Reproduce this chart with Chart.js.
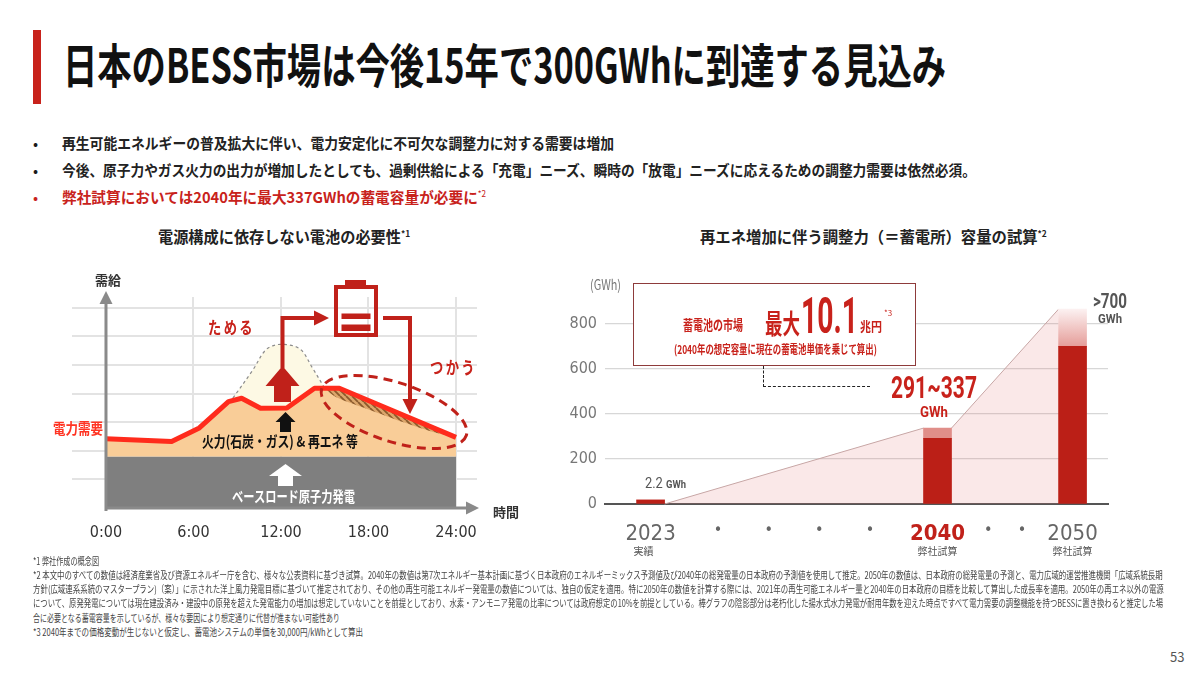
<!DOCTYPE html>
<html lang="ja">
<head>
<meta charset="UTF-8">
<title>日本のBESS市場</title>
<script src="https://cdn.jsdelivr.net/npm/chart.js"></script>
<style>
  html, body { margin: 0; padding: 0; background: #fff; }
  body { width: 1200px; height: 673px; position: relative; overflow: hidden;
         font-family: 'Noto Sans CJK JP', 'Noto Sans', sans-serif; color: #1a1a1a; }
  .t { position: absolute; white-space: nowrap; line-height: 1; transform-origin: left center; }
  .b { font-weight: 700; }
  .red { color: #c8221b; }
  .num { font-family: Roboto, 'Noto Sans', sans-serif; }
  .foot { font-size: 10px; color: #444; left: 33px; }
  .box { position: absolute; box-sizing: border-box; }
  sup { font-size: 55%; vertical-align: 0.7em; line-height: 0; }
</style>
</head>
<body>
  <!-- header -->
  <div class="box" style="left:33px;top:30px;width:8px;height:74px;background:#c8221b;"></div>
  <div class="t b" style="left:63px;top:39px;font-size:47px;color:#111;" data-w="883">日本のBESS市場は今後15年で300GWhに到達する見込み</div>

  <div class="t" style="left:33px;top:135px;font-size:15px;">•</div>
  <div class="t b" style="left:62px;top:135px;font-size:15px;color:#222;" data-w="552">再生可能エネルギーの普及拡大に伴い、電力安定化に不可欠な調整力に対する需要は増加</div>
  <div class="t" style="left:33px;top:162px;font-size:15px;">•</div>
  <div class="t b" style="left:62px;top:162px;font-size:15px;color:#222;" data-w="914">今後、原子力やガス火力の出力が増加したとしても、過剰供給による「充電」ニーズ、瞬時の「放電」ニーズに応えるための調整力需要は依然必須。</div>
  <div class="t red" style="left:33px;top:189px;font-size:15px;">•</div>
  <div class="t b red" style="left:62px;top:189px;font-size:15px;" data-w="424">弊社試算においては2040年に最大337GWhの蓄電容量が必要に<sup style="font-weight:400">*2</sup></div>

  <div class="t b" style="left:158px;top:228px;font-size:16px;color:#222;" data-w="252">電源構成に依存しない電池の必要性<sup>*1</sup></div>
  <div class="t b" style="left:700px;top:228px;font-size:16px;color:#222;" data-w="347">再エネ増加に伴う調整力（＝蓄電所）容量の試算<sup>*2</sup></div>

  <!-- left diagram -->
  <div style="position:absolute;left:40px;top:270px;width:470px;height:290px;">
    <canvas id="demandChart"></canvas>
  </div>
  <div class="t b" style="left:95px;top:273px;font-size:13px;color:#333;">需給</div>
  <div class="t b" style="left:53px;top:420px;font-size:15px;color:#ff3322;" data-w="50">電力需要</div>
  <div class="t b red" style="left:208px;top:318px;font-size:17px;letter-spacing:3px;" data-w="47">ためる</div>
  <div class="t b red" style="left:430px;top:358px;font-size:17px;letter-spacing:3px;" data-w="47">つかう</div>
  <div class="t b" style="left:202px;top:433px;font-size:15px;color:#111;" data-w="156">火力(石炭・ガス) &amp; 再エネ 等</div>
  <div class="t b" style="left:232px;top:488px;font-size:15px;color:#fff;" data-w="123">ベースロード原子力発電</div>
  <div class="t b" style="left:493px;top:505px;font-size:13px;color:#333;">時間</div>

  <!-- right chart -->
  <div style="position:absolute;left:555px;top:270px;width:575px;height:300px;">
    <canvas id="bessChart"></canvas>
  </div>
  <div class="t" style="left:590px;top:277px;font-size:14px;color:#777;" data-w="31">(GWh)</div>

  <div class="box" style="left:633px;top:283px;width:283px;height:83px;border:1.5px solid #8e3b3b;background:#fff;"></div>
  <div class="t b red" style="left:683px;top:317px;font-size:14px;" data-w="60">蓄電池の市場</div>
  <div class="t b red" style="left:765px;top:309px;font-size:27px;" data-w="35">最大</div>
  <div class="t b red num" style="left:801px;top:291px;font-size:50px;" data-w="57">10.1</div>
  <div class="t b red" style="left:860px;top:319px;font-size:13px;" data-w="22">兆円</div>
  <div class="t red" style="left:884px;top:309px;font-size:8px;">*3</div>
  <div class="t b red" style="left:674px;top:343px;font-size:12px;" data-w="203">(2040年の想定容量に現在の蓄電池単価を乗じて算出)</div>
  <div class="box" style="left:763px;top:366px;width:107px;height:21px;border-left:1.5px dashed #222;border-bottom:1.5px dashed #222;"></div>

  <div class="t b red num" style="left:891px;top:372px;font-size:31px;" data-w="86">291~337</div>
  <div class="t b red num" style="left:920px;top:405px;font-size:15px;" data-w="28">GWh</div>
  <div class="t b num" style="left:1093px;top:291px;font-size:20px;color:#555;" data-w="34">&gt;700</div>
  <div class="t b num" style="left:1098px;top:312px;font-size:13px;color:#555;" data-w="24">GWh</div>
  <div class="t num" style="left:645px;top:476px;font-size:15px;color:#555;" data-w="41">2.2 <span style="font-size:11px;font-weight:700">GWh</span></div>

  <!-- footnotes -->
  <div class="t foot" style="top:556px;" data-w="66">*1 弊社作成の概念図</div>
  <div class="t foot" style="top:570px;" data-w="1130">*2 本文中のすべての数値は経済産業省及び資源エネルギー庁を含む、様々な公表資料に基づき試算。2040年の数値は第7次エネルギー基本計画に基づく日本政府のエネルギーミックス予測値及び2040年の総発電量の日本政府の予測値を使用して推定。2050年の数値は、日本政府の総発電量の予測と、電力広域的運営推進機関「広域系統長期</div>
  <div class="t foot" style="top:584px;" data-w="1131">方針(広域連系系統のマスタープラン)（案）」に示された洋上風力発電目標に基づいて推定されており、その他の再生可能エネルギー発電量の数値については、独自の仮定を適用。特に2050年の数値を計算する際には、2021年の再生可能エネルギー量と2040年の日本政府の目標を比較して算出した成長率を適用。2050年の再エネ以外の電源</div>
  <div class="t foot" style="top:598px;" data-w="1130">について、原発発電については現在建設済み・建設中の原発を超えた発電能力の増加は想定していないことを前提としており、水素・アンモニア発電の比率については政府想定の10%を前提としている。棒グラフの陰影部分は老朽化した揚水式水力発電が耐用年数を迎えた時点ですべて電力需要の調整機能を持つBESSに置き換わると推定した場</div>
  <div class="t foot" style="top:613px;" data-w="307">合に必要となる蓄電容量を示しているが、様々な要因により想定通りに代替が進まない可能性あり</div>
  <div class="t foot" style="top:627px;" data-w="330">*3 2040年までの価格変動が生じないと仮定し、蓄電池システムの単価を30,000円/kWhとして算出</div>

  <div class="t" style="left:1170px;top:650px;font-size:13px;color:#555;">53</div>

<script>
// ---- left diagram data (hours / demand level) ----
const demandHours = [0, 4.5, 6.4, 8.4, 9.3, 10.6, 12.4, 14.3, 16.0, 24];
const demandLevel = [2.42, 2.33, 2.8, 3.72, 3.84, 3.49, 3.5, 4.19, 4.19, 2.47];
const baseHours = [0, 24];
const baseLevel = [1.8, 1.8];
const solarHours = [8.7, 10.1, 10.9, 11.6, 12.6, 13.4, 14.1, 15.0];
const solarLevel = [3.84, 4.85, 5.5, 5.7, 5.7, 5.52, 4.95, 4.19];
const dischargeHours = [15.0, 15.8, 18.1, 20.4, 22.7, 24.0];
const dischargeLevel = [4.19, 3.87, 3.43, 3.0, 2.62, 2.47];
const hourTicks = [0, 6, 12, 18, 24];
const hourLabels = ['0:00', '6:00', '12:00', '18:00', '24:00'];
const levelGrid = [1, 2, 3, 4, 5, 6, 7];

// ---- right chart data (GWh) ----
const yearSlots = [0, 4, 7, 10, 13, 17, 20, 22, 25];
const yearLabels = ['2023', '•', '•', '•', '•', '2040', '•', '•', '2050'];
const yearNotes = ['実績', '', '', '', '', '弊社試算', '', '', '弊社試算'];
const barSlots = [0, 17, 25];
const bessBase = [2.2, 291, 700];
const bessUpper = [2.2, 337, 865];
const gwhTicks = [0, 200, 400, 600, 800];

// 'condensed' rides in the weight slot so the canvas font string picks a narrow face when there is one
const narrow = "'DejaVu Sans', Roboto, sans-serif";
const RED = '#c0211a';
const pts = (xs, ys) => xs.map((x, i) => ({ x: x, y: ys[i] }));

function hatchPattern() {
  const s = 6;
  const c = document.createElement('canvas');
  c.width = s; c.height = s;
  const g = c.getContext('2d');
  g.fillStyle = '#dca66b';
  g.fillRect(0, 0, s, s);
  g.strokeStyle = '#8a5a2c';
  g.lineWidth = 1.8;
  g.beginPath();
  for (let k = -1; k <= 1; k++) { g.moveTo(k * s, 0); g.lineTo(k * s + s, s); }
  g.stroke();
  return g.createPattern(c, 'repeat');
}

function upArrow(ctx, cx, tip, headW, headY, shaftW, bottom, color) {
  ctx.fillStyle = color;
  ctx.beginPath();
  ctx.moveTo(cx, tip);
  ctx.lineTo(cx + headW / 2, headY);
  ctx.lineTo(cx + shaftW / 2, headY);
  ctx.lineTo(cx + shaftW / 2, bottom);
  ctx.lineTo(cx - shaftW / 2, bottom);
  ctx.lineTo(cx - shaftW / 2, headY);
  ctx.lineTo(cx - headW / 2, headY);
  ctx.closePath();
  ctx.fill();
}

// axes with arrows, battery, arrows and the dashed ellipse (page coordinates)
const diagramPlugin = {
  id: 'diagram',
  afterDatasetsDraw(chart) {
    const ctx = chart.ctx;
    const x0 = chart.scales.x.getPixelForValue(0);
    const y0 = chart.scales.y.getPixelForValue(0);
    const xEnd = chart.chartArea.right;
    ctx.save();
    // axes
    ctx.strokeStyle = '#8a8a8a';
    ctx.fillStyle = '#8a8a8a';
    ctx.lineWidth = 3;
    ctx.beginPath();
    ctx.moveTo(x0, y0 + 3); ctx.lineTo(x0, chart.chartArea.top + 6);
    ctx.moveTo(x0, y0); ctx.lineTo(xEnd - 10, y0);
    ctx.stroke();
    ctx.beginPath();
    ctx.moveTo(x0, chart.chartArea.top - 6); ctx.lineTo(x0 - 6.5, chart.chartArea.top + 7); ctx.lineTo(x0 + 6.5, chart.chartArea.top + 7);
    ctx.closePath(); ctx.fill();
    ctx.beginPath();
    ctx.moveTo(xEnd + 2, y0); ctx.lineTo(xEnd - 11, y0 - 6.5); ctx.lineTo(xEnd - 11, y0 + 6.5);
    ctx.closePath(); ctx.fill();

    // decorations drawn in page pixels
    ctx.translate(-40, -270);
    upArrow(ctx, 282.5, 366, 34, 386, 17, 402, RED);
    upArrow(ctx, 285.5, 412, 20, 422, 11, 432, '#111');
    upArrow(ctx, 285.5, 464, 33, 476, 15, 486, '#fff');

    ctx.strokeStyle = RED;
    ctx.fillStyle = RED;
    ctx.lineWidth = 4;
    ctx.lineJoin = 'miter';
    ctx.beginPath();
    ctx.moveTo(282.5, 368); ctx.lineTo(282.5, 318); ctx.lineTo(316, 318);
    ctx.moveTo(383, 318); ctx.lineTo(410, 318); ctx.lineTo(410, 400);
    ctx.stroke();
    ctx.beginPath();
    ctx.moveTo(329, 318); ctx.lineTo(314, 310.5); ctx.lineTo(314, 325.5); ctx.closePath();
    ctx.moveTo(410, 414); ctx.lineTo(402.5, 399); ctx.lineTo(417.5, 399); ctx.closePath();
    ctx.fill();

    // battery
    ctx.strokeRect(336, 287, 40, 48);
    ctx.fillRect(345, 280, 21, 5);
    ctx.fillRect(341.5, 313.5, 29, 5.5);
    ctx.fillRect(341.5, 324.5, 29, 6.5);

    // dashed ellipse around the discharge area
    ctx.lineWidth = 3;
    ctx.setLineDash([9, 6]);
    ctx.beginPath();
    ctx.ellipse(394, 412, 76, 29.5, 18 * Math.PI / 180, 0, Math.PI * 2);
    ctx.stroke();
    ctx.restore();
  }
};

new Chart(document.getElementById('demandChart'), {
  type: 'line',
  data: {
    datasets: [
      { label: '電力需要', data: pts(demandHours, demandLevel), order: 3,
        borderColor: '#ff2b1c', borderWidth: 5, borderJoinStyle: 'round',
        backgroundColor: '#f9cd98', fill: { target: 1 } },
      { label: 'ベースロード原子力発電', data: pts(baseHours, baseLevel), order: 5,
        borderWidth: 0, backgroundColor: '#7f7f7f', fill: 'origin' },
      { label: '太陽光', data: pts(solarHours, solarLevel), order: 4, tension: 0.35,
        borderColor: '#8c8c8c', borderWidth: 1.2, borderDash: [3, 3],
        backgroundColor: '#fdf9e4', fill: { target: 0 } },
      { label: '放電', data: pts(dischargeHours, dischargeLevel), order: 2, tension: 0.3,
        borderWidth: 0, backgroundColor: hatchPattern(), fill: { target: 0 } }
    ]
  },
  options: {
    responsive: true,
    maintainAspectRatio: false,
    animation: false,
    layout: { padding: { left: 32, right: 33, top: 27, bottom: 0 } },
    elements: { point: { radius: 0 } },
    plugins: { legend: { display: false }, tooltip: { enabled: false }, filler: { drawTime: 'beforeDatasetsDraw' } },
    scales: {
      x: {
        type: 'linear', min: -2.33, max: 25.44,
        afterBuildTicks: s => { s.ticks = hourTicks.map(v => ({ value: v })); },
        afterFit: s => { s.height = 52; },
        grid: { color: c => (c.tick && c.tick.value === 0) ? 'rgba(0,0,0,0)' : '#e3e3e3', lineWidth: 2, drawTicks: false },
        border: { display: false },
        ticks: { callback: (v, i) => hourLabels[i], color: '#333', font: { family: narrow, size: 16, weight: 'condensed' },
                 padding: 15, maxRotation: 0, autoSkip: false }
      },
      y: {
        min: 0, max: 7.38,
        afterBuildTicks: s => { s.ticks = levelGrid.map(v => ({ value: v })); },
        afterFit: s => { s.width = 0; },
        grid: { color: '#e3e3e3', lineWidth: 2, drawTicks: false },
        border: { display: false },
        ticks: { display: false }
      }
    }
  },
  plugins: [diagramPlugin]
});

// ---- right chart ----
function upperColor(c) {
  const i = c.dataIndex;
  if (i !== barSlots.length - 1) return '#e08e89';
  const y = c.chart.scales.y;
  if (!y) return '#efbcb9';
  const g = c.chart.ctx.createLinearGradient(0, y.getPixelForValue(bessBase[i]), 0, y.getPixelForValue(bessUpper[i]));
  g.addColorStop(0, '#e59d99');
  g.addColorStop(1, '#fcf1f1');
  return g;
}

// pale wedge joining the tops of the bars
const wedgePlugin = {
  id: 'wedge',
  beforeDatasetsDraw(chart) {
    const lo = chart.getDatasetMeta(0).data;
    const hi = chart.getDatasetMeta(1).data;
    const y0 = chart.scales.y.getPixelForValue(0);
    const p = [[lo[0].x + lo[0].width / 2, y0]];
    for (let i = 1; i < hi.length; i++) {
      p.push([hi[i].x - hi[i].width / 2, hi[i].y]);
      if (i < hi.length - 1) p.push([hi[i].x + hi[i].width / 2, hi[i].y]);
    }
    const ctx = chart.ctx;
    ctx.save();
    ctx.fillStyle = 'rgba(225, 120, 118, 0.17)';
    ctx.beginPath();
    ctx.moveTo(p[0][0], p[0][1]);
    p.slice(1).forEach(q => ctx.lineTo(q[0], q[1]));
    ctx.lineTo(p[p.length - 1][0], y0);
    ctx.closePath();
    ctx.fill();
    ctx.strokeStyle = '#c7a6a5';
    ctx.lineWidth = 1;
    ctx.beginPath();
    for (let k = 0; k + 1 < p.length; k += 2) { ctx.moveTo(p[k][0], p[k][1]); ctx.lineTo(p[k + 1][0], p[k + 1][1]); }
    ctx.stroke();
    ctx.restore();
  },
  afterDraw(chart) {
    const xs = chart.scales.x;
    const ctx = chart.ctx;
    ctx.save();
    ctx.font = "10px 'Noto Sans CJK JP'";
    ctx.fillStyle = '#555';
    ctx.textAlign = 'center';
    ctx.textBaseline = 'middle';
    yearNotes.forEach((t, i) => { if (t) ctx.fillText(t, xs.getPixelForValue(yearSlots[i]) - (i === 0 ? 7 : 0), xs.top + 47); });
    ctx.restore();
  }
};

new Chart(document.getElementById('bessChart'), {
  type: 'bar',
  data: {
    datasets: [
      { label: '蓄電容量', data: pts(barSlots, bessBase), backgroundColor: '#bb1f17',
        barThickness: 28, minBarLength: 4, stack: 's' },
      { label: '陰影部分', data: pts(barSlots, bessUpper.map((v, i) => v - bessBase[i])),
        backgroundColor: upperColor, barThickness: 28, stack: 's' }
    ]
  },
  options: {
    responsive: true,
    maintainAspectRatio: false,
    animation: false,
    layout: { padding: { left: 0, right: 22, top: 20, bottom: 0 } },
    plugins: { legend: { display: false }, tooltip: { enabled: false } },
    scales: {
      x: {
        type: 'linear', stacked: true, offset: false, min: -2.7, max: 27.1,
        afterBuildTicks: s => { s.ticks = yearSlots.map(v => ({ value: v })); },
        afterFit: s => { s.height = 66; },
        grid: { display: false, drawTicks: false },
        border: { display: true, color: '#555', width: 2 },
        ticks: {
          callback: (v, i) => yearLabels[i],
          color: c => yearLabels[c.index] === '2040' ? '#c0211a' : '#666',
          font: c => ({ family: narrow, size: yearLabels[c.index] === '•' ? 16 : 22,
                        weight: yearLabels[c.index] === '2040' ? 'condensed bold' : 'condensed' }),
          padding: 17, maxRotation: 0, autoSkip: false
        }
      },
      y: {
        stacked: true, min: 0, max: 950,
        afterBuildTicks: s => { s.ticks = gwhTicks.map(v => ({ value: v })); },
        afterFit: s => { s.width = 50; },
        grid: { color: '#d7d7d7', lineWidth: 1.2, drawTicks: false },
        border: { display: false },
        ticks: { color: '#777', font: { family: narrow, size: 16, weight: 'condensed' }, padding: 8 }
      }
    }
  },
  plugins: [wedgePlugin]
});

// squeeze text boxes to the widths of the condensed original typeface
function fitWidths() {
  document.querySelectorAll('[data-w]').forEach(el => {
    el.style.transform = 'none';
    const w = el.getBoundingClientRect().width;
    if (w > 0) el.style.transform = 'scaleX(' + (parseFloat(el.dataset.w) / w).toFixed(3) + ')';
  });
}
fitWidths();
if (document.fonts) document.fonts.ready.then(fitWidths);
</script>
</body>
</html>
